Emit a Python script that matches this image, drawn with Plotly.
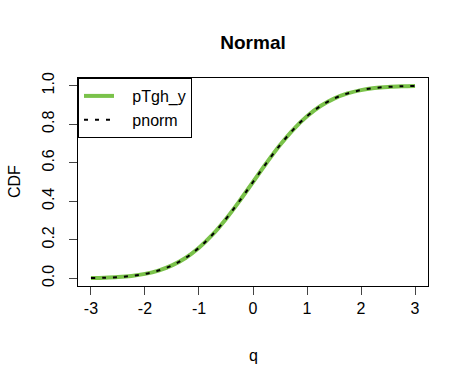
import plotly.graph_objects as go

q = [-3, -2.75, -2.5, -2.25, -2, -1.75, -1.5, -1.25, -1, -0.75, -0.5, -0.25, 0,
     0.25, 0.5, 0.75, 1, 1.25, 1.5, 1.75, 2, 2.25, 2.5, 2.75, 3]
pTgh_y = [0.0013, 0.0030, 0.0062, 0.0122, 0.0228, 0.0401, 0.0668, 0.1056, 0.1587,
          0.2266, 0.3085, 0.4013, 0.5, 0.5987, 0.6915, 0.7734, 0.8413, 0.8944,
          0.9332, 0.9599, 0.9772, 0.9878, 0.9938, 0.9970, 0.9987]
pnorm = [0.0013, 0.0030, 0.0062, 0.0122, 0.0228, 0.0401, 0.0668, 0.1056, 0.1587,
         0.2266, 0.3085, 0.4013, 0.5, 0.5987, 0.6915, 0.7734, 0.8413, 0.8944,
         0.9332, 0.9599, 0.9772, 0.9878, 0.9938, 0.9970, 0.9987]
series_names = ["pTgh_y", "pnorm"]
x_ticks = [-3, -2, -1, 0, 1, 2, 3]
x_tick_labels = ["-3", "-2", "-1", "0", "1", "2", "3"]
y_ticks = [0.0, 0.2, 0.4, 0.6, 0.8, 1.0]
y_tick_labels = ["0.0", "0.2", "0.4", "0.6", "0.8", "1.0"]

font = "Liberation Sans, Arial, sans-serif"
W, H = 469, 384
NB = "\u00a0\u00a0\u00a0"  # small indent of legend text

fig = go.Figure()
fig.add_trace(go.Scatter(x=q, y=pTgh_y, mode="lines", name=NB + series_names[0],
                         line=dict(color="#7AC24A", width=4, shape="spline")))
fig.add_trace(go.Scatter(x=q, y=pnorm, mode="lines", name=NB + series_names[1],
                         line=dict(color="black", width=2, dash="4px,7px", shape="spline")))

fig.update_layout(
    width=W, height=H,
    margin=dict(l=78, r=41, t=78, b=98),
    paper_bgcolor="white", plot_bgcolor="white",
    font=dict(family=font, size=16, color="black"),
    title=dict(text="<b>Normal</b>", x=253 / W, xanchor="center",
               y=1 - 42 / H, yanchor="middle",
               font=dict(size=19, family=font)),
    showlegend=True,
    legend=dict(x=0, y=1, xanchor="left", yanchor="top", bgcolor="white",
                bordercolor="black", borderwidth=1, font=dict(size=16),
                tracegroupgap=0, itemwidth=30),
    xaxis=dict(range=[-3.24, 3.24], tickvals=x_ticks, ticktext=x_tick_labels,
               ticks="outside", ticklen=8,
               showline=True, linecolor="black", linewidth=1, mirror=True,
               showgrid=False, zeroline=False, tickfont=dict(size=16),
               automargin=False),
    yaxis=dict(range=[-0.04, 1.04], tickvals=y_ticks, ticktext=y_tick_labels,
               ticks="outside", ticklen=8, tickangle=-90, ticklabelstandoff=9,
               showline=True, linecolor="black", linewidth=1, mirror=True,
               showgrid=False, zeroline=False, tickfont=dict(size=16),
               automargin=False),
    annotations=[
        dict(text="q", xref="paper", yref="paper", x=0.5, y=-(355 - 286) / 208,
             xanchor="center", yanchor="middle", showarrow=False,
             font=dict(size=16, family=font)),
        dict(text="CDF", xref="paper", yref="paper", x=-(78 - 14) / 350, y=0.5,
             xanchor="center", yanchor="middle", showarrow=False, textangle=-90,
             font=dict(size=16, family=font)),
    ],
)

fig.write_html("out.html", config={"displayModeBar": False},
               post_script="document.body.style.margin='0';document.body.style.overflow='hidden';")
